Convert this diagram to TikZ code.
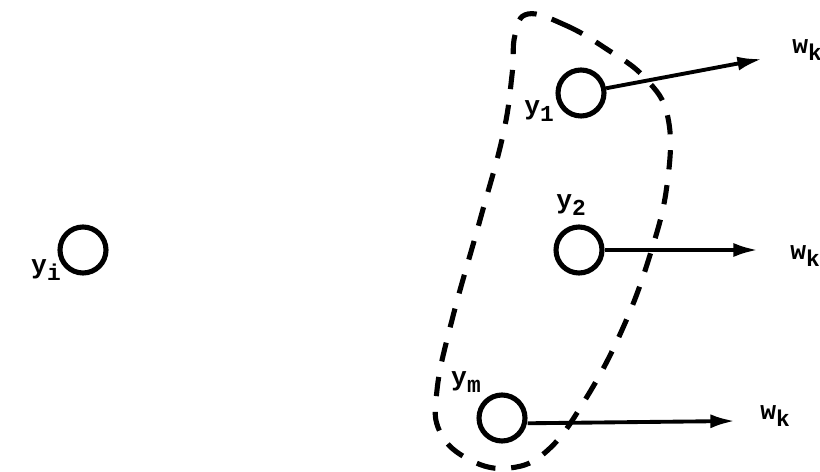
\documentclass[tikz,border=0pt]{standalone}
\usepackage{fontspec}
\setmonofont{Liberation Mono}
\usetikzlibrary{arrows.meta}
\newcommand{\sbx}[1]{\raisebox{-0.45ex}{\fontsize{13}{13}\selectfont #1}}
\begin{document}
\begin{tikzpicture}[x=0.02cm,y=-0.02cm,
  unit/.style={circle,draw,line width=2.9pt,inner sep=0pt,minimum size=0.92cm},
  lbl/.style={font=\ttfamily\bfseries\fontsize{15}{15}\selectfont,inner sep=0pt},
  conn/.style={line width=2.2pt,-{Latex[length=14pt,width=8pt]}},
  group/.style={line width=2.9pt,dash pattern=on 11pt off 9pt}]
\useasboundingbox (0,0) rectangle (820,472);
\node[unit] (yi) at (83,250) {};
\node[unit] (y1) at (581,93) {};
\node[unit] (y2) at (579,250) {};
\node[unit] (ym) at (502,418) {};
\node[lbl] (lyi) at (46,270) {y\sbx{i}};
\node[lbl] (ly1) at (539,111) {y\sbx{1}};
\node[lbl] (ly2) at (571,205) {y\sbx{2}};
\node[lbl] (lym) at (466,382) {y\sbx{m}};
\coordinate (t1) at (762,59);
\coordinate (t2) at (758,250);
\coordinate (t3) at (735,421);
\draw[conn] (y1) -- (t1);
\draw[conn] (y2) -- (t2);
\draw[conn] ([yshift=-3pt]ym.east) -- (t3);
\node[lbl,anchor=west] (w1) at (792,50) {w\sbx{k}};
\node[lbl,anchor=west] (w2) at (790,256) {w\sbx{k}};
\node[lbl,anchor=west] (w3) at (760,416) {w\sbx{k}};
\draw[group] plot[smooth cycle,tension=0.7] coordinates {
 (528,14) (565,25) (605,48) (645,78) (668,118) (667,185) (650,255)
 (622,330) (585,400) (548,450) (510,468) (470,460) (440,432)
 (437,390) (452,320) (480,220) (503,135) (512,75) (515,35)};
\end{tikzpicture}
\end{document}
